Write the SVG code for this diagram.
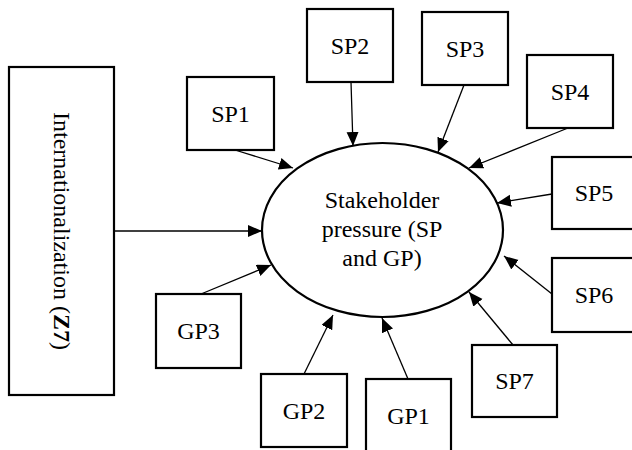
<svg xmlns="http://www.w3.org/2000/svg" width="632" height="450" viewBox="0 0 632 450">
<style>
.box{fill:#fff;stroke:#000;stroke-width:2.2}
.lbl{font-family:"Liberation Serif","Times New Roman",serif;font-size:24px;fill:#000;text-anchor:middle}
.edge{stroke:#000;stroke-width:1.3;fill:none;marker-end:url(#arr)}
</style>
<defs>
<marker id="arr" markerUnits="userSpaceOnUse" markerWidth="16" markerHeight="14" refX="14" refY="6" orient="auto">
<path d="M0,0 L14,6 L0,12 Z" fill="#000"/>
</marker>
</defs>
<rect width="632" height="450" fill="#fff"/>
<g id="connectors">
<line class="edge" x1="114" y1="231" x2="262" y2="231"/>
<line class="edge" x1="235" y1="150" x2="293" y2="168"/>
<line class="edge" x1="351" y1="82" x2="353" y2="146"/>
<line class="edge" x1="464" y1="85" x2="438" y2="152"/>
<line class="edge" x1="568" y1="128" x2="469" y2="168"/>
<line class="edge" x1="552" y1="194" x2="497" y2="203"/>
<line class="edge" x1="552" y1="294" x2="504" y2="256"/>
<line class="edge" x1="513" y1="345" x2="469" y2="292"/>
<line class="edge" x1="408" y1="379" x2="382" y2="318"/>
<line class="edge" x1="304" y1="374" x2="333" y2="315"/>
<line class="edge" x1="201" y1="294" x2="271" y2="265"/>
</g>
<g id="center">
<ellipse cx="382.5" cy="230" rx="120.5" ry="87" fill="#fff" stroke="#000" stroke-width="2.2"/>
<text class="lbl" x="382" y="208">Stakeholder</text>
<text class="lbl" x="382" y="237">pressure (SP</text>
<text class="lbl" x="382" y="266">and GP)</text>
</g>
<g id="z7">
<rect class="box" x="9" y="67" width="105" height="328"/>
<text class="lbl" transform="translate(54,231) rotate(90)">Internationalization (<tspan font-weight="bold">Z7</tspan>)</text>
</g>
<g id="sp1"><rect class="box" x="187" y="77" width="87" height="73"/><text class="lbl" x="230.5" y="122">SP1</text></g>
<g id="sp2"><rect class="box" x="307" y="9" width="86" height="73"/><text class="lbl" x="350" y="54">SP2</text></g>
<g id="sp3"><rect class="box" x="422" y="12" width="86" height="73"/><text class="lbl" x="465" y="57">SP3</text></g>
<g id="sp4"><rect class="box" x="527" y="55" width="86" height="73"/><text class="lbl" x="570" y="100">SP4</text></g>
<g id="sp5"><rect class="box" x="552" y="157" width="86" height="72"/><text class="lbl" x="594" y="201">SP5</text></g>
<g id="sp6"><rect class="box" x="552" y="258" width="86" height="74"/><text class="lbl" x="594" y="303">SP6</text></g>
<g id="sp7"><rect class="box" x="472" y="345" width="85" height="72"/><text class="lbl" x="514.5" y="389">SP7</text></g>
<g id="gp3"><rect class="box" x="156" y="294" width="85" height="74"/><text class="lbl" x="198.5" y="339">GP3</text></g>
<g id="gp2"><rect class="box" x="261" y="374" width="86" height="73"/><text class="lbl" x="304" y="419">GP2</text></g>
<g id="gp1"><rect class="box" x="366" y="379" width="85" height="80"/><text class="lbl" x="408.5" y="424">GP1</text></g>
</svg>
